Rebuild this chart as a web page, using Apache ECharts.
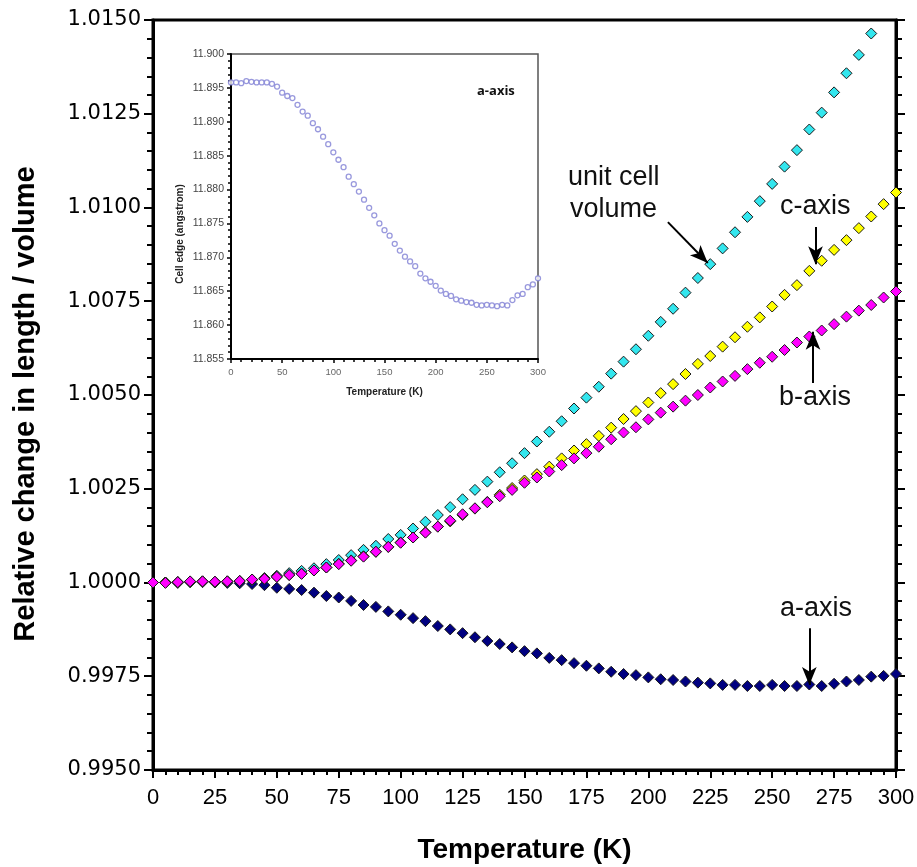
<!DOCTYPE html>
<html>
<head>
<meta charset="utf-8">
<script src="https://cdn.jsdelivr.net/npm/echarts@6.0.0/dist/echarts.min.js"></script>
<style>html,body{margin:0;padding:0;background:#fff}#c{width:917px;height:867px}</style>
</head>
<body>
<div id="c"></div>
<script>
// Temperatures (K)
const temps = [0,5,10,15,20,25,30,35,40,45,50,55,60,65,70,75,80,85,90,95,100,105,110,115,120,125,130,135,140,145,150,155,160,165,170,175,180,185,190,195,200,205,210,215,220,225,230,235,240,245,250,255,260,265,270,275,280,285,290,295,300];

// Main chart: relative change
const aAxisRel = [1.0000,1.0000,0.99999,1.00001,1.00001,1.0000,0.99999,0.99998,0.99996,0.99993,0.99986,0.99983,0.99980,0.99973,0.99964,0.99960,0.99951,0.99940,0.99935,0.99923,0.99914,0.99905,0.99897,0.99884,0.99875,0.99865,0.99854,0.99844,0.99836,0.99827,0.99817,0.99811,0.99799,0.99793,0.99785,0.99778,0.99771,0.99762,0.99756,0.99753,0.99747,0.99742,0.99740,0.99736,0.99733,0.99731,0.99727,0.99727,0.99724,0.99724,0.99727,0.99724,0.99724,0.99728,0.99724,0.99730,0.99736,0.99740,0.99749,0.99751,0.99756];

const bAxisRel = [1.0000,0.99999,1.00001,1.00003,1.00003,1.00002,1.00003,1.00004,1.00008,1.00010,1.00015,1.00020,1.00023,1.00032,1.00040,1.00049,1.00058,1.00069,1.00082,1.00095,1.00106,1.00120,1.00133,1.00149,1.00165,1.00182,1.00198,1.00214,1.00230,1.00247,1.00266,1.00280,1.00296,1.00313,1.00331,1.00345,1.00362,1.00382,1.00400,1.00414,1.00435,1.00453,1.00469,1.00485,1.00500,1.00520,1.00536,1.00551,1.00569,1.00586,1.00602,1.00620,1.00640,1.00656,1.00672,1.00689,1.00709,1.00725,1.00740,1.00760,1.00776];

const cAxisRel = [1.0000,1.0000,1.00001,1.00002,1.00003,1.00002,1.00003,1.00004,1.00007,1.00010,1.00015,1.00020,1.00024,1.00032,1.00040,1.00050,1.00059,1.00070,1.00082,1.00095,1.00107,1.00120,1.00134,1.00149,1.00163,1.00180,1.00197,1.00215,1.00234,1.00252,1.00272,1.00289,1.00309,1.00331,1.00352,1.00369,1.00391,1.00413,1.00436,1.00457,1.00480,1.00505,1.00529,1.00556,1.00583,1.00604,1.00629,1.00654,1.00682,1.00707,1.00736,1.00767,1.00793,1.00831,1.00858,1.00887,1.00913,1.00945,1.00976,1.01009,1.01040];

// unit cell volume (0..290 K)
const volumeRel = [1.0000,1.0000,1.00001,1.00002,1.00003,1.00002,1.00003,1.00004,1.00008,1.00012,1.00018,1.00025,1.00031,1.00038,1.00049,1.00060,1.00073,1.00087,1.00098,1.00116,1.00127,1.00144,1.00162,1.00180,1.00201,1.00222,1.00247,1.00269,1.00294,1.00318,1.00345,1.00376,1.00402,1.00430,1.00464,1.00493,1.00522,1.00557,1.00589,1.00622,1.00658,1.00695,1.00730,1.00773,1.00812,1.00849,1.00891,1.00934,1.00975,1.01017,1.01063,1.01109,1.01153,1.01208,1.01253,1.01307,1.01358,1.01407,1.01464];

// Inset: a-axis cell edge (angstrom)
const insetCellEdge = [11.8958,11.8958,11.8957,11.8960,11.8959,11.8958,11.8958,11.8958,11.8956,11.8952,11.8943,11.8938,11.8935,11.8925,11.8915,11.8909,11.8898,11.8889,11.8878,11.8867,11.8855,11.8844,11.8833,11.8819,11.8808,11.8797,11.8785,11.8773,11.8762,11.8750,11.8740,11.8732,11.8720,11.8710,11.8701,11.8694,11.8687,11.8676,11.8669,11.8664,11.8658,11.8651,11.8646,11.8643,11.8638,11.8636,11.8634,11.8633,11.8630,11.8629,11.8630,11.8629,11.8628,11.8630,11.8629,11.8637,11.8644,11.8646,11.8656,11.8660,11.8669];

// Annotation arrows [x0, y0, x1, y1] in data units (tip at x1,y1)
const arrowVolume = [207.9, 1.00961, 224.0, 1.00852];
const arrowC = [267.5, 1.00948, 267.5, 1.00849];
const arrowB = [266.5, 1.00532, 266.5, 1.00669];
const arrowA = [265.0, 0.99878, 265.0, 0.99727];

const zip = (xs, ys) => ys.map((v, i) => [xs[i], v]);

function arrowLine(a) {
  return {
    silent: true, animation: false,
    symbol: ['none', 'arrow'], symbolSize: [11, 18],
    lineStyle: {color: '#000', width: 2, type: 'solid'},
    label: {show: false},
    emphasis: {disabled: true},
    data: [[{coord: [a[0], a[1]]}, {coord: [a[2], a[3]]}]]
  };
}

const chart = echarts.init(document.getElementById('c'), null, {renderer: 'canvas'});

const mainFont = "'Liberation Sans', Arial, sans-serif";

const diamond = (color) => ({
  type: 'scatter', xAxisIndex: 0, yAxisIndex: 0,
  symbol: 'diamond', symbolSize: 11,
  itemStyle: {color: color, borderColor: '#1a1a1a', borderWidth: 1, opacity: 1},
  emphasis: {disabled: true},
  animation: false
});

const txt = (x, y, text, font, extra) => Object.assign({
  type: 'text', x: x, y: y, z: 100,
  style: {text: text, font: font, fill: '#111', align: 'left', verticalAlign: 'middle', textAlign: 'left', textVerticalAlign: 'middle'}
}, extra || {});

const option = {
  backgroundColor: '#fff',
  animation: false,
  grid: [
    {left: 153, top: 20, width: 743, height: 750, show: true, borderColor: '#000', borderWidth: 3, backgroundColor: 'transparent', containLabel: false, outerBoundsMode: 'none'},
    {left: 231, top: 54, width: 307, height: 305, show: true, borderColor: '#555', borderWidth: 1.5, backgroundColor: '#fff', containLabel: false, outerBoundsMode: 'none'}
  ],
  xAxis: [
    {
      gridIndex: 0, type: 'value', min: 0, max: 300, interval: 25,
      name: 'Temperature (K)', nameLocation: 'middle', nameGap: 66,
      nameTextStyle: {fontFamily: mainFont, fontWeight: 'bold', fontSize: 28, color: '#000'},
      axisLine: {show: true, onZero: false, lineStyle: {color: '#000', width: 3}},
      axisTick: {show: true, inside: false, length: 8, lineStyle: {color: '#000', width: 2}},
      minorTick: {show: true, splitNumber: 5, length: 5, lineStyle: {color: '#000', width: 2}},
      axisLabel: {fontFamily: mainFont, fontSize: 22, color: '#000', margin: 17},
      splitLine: {show: false}, minorSplitLine: {show: false}
    },
    {
      gridIndex: 1, type: 'value', min: 0, max: 300, interval: 50,
      name: 'Temperature (K)', nameLocation: 'middle', nameGap: 28,
      nameTextStyle: {fontFamily: mainFont, fontWeight: 'bold', fontSize: 10, color: '#222'},
      axisLine: {show: true, onZero: false, lineStyle: {color: '#000', width: 2}},
      axisTick: {show: true, inside: false, length: 4, lineStyle: {color: '#000', width: 1.5}},
      minorTick: {show: true, splitNumber: 5, length: 3, lineStyle: {color: '#000', width: 1.5}},
      axisLabel: {fontFamily: mainFont, fontSize: 9.5, color: '#666', margin: 8},
      splitLine: {show: false}, minorSplitLine: {show: false}
    }
  ],
  yAxis: [
    {
      gridIndex: 0, type: 'value', min: 0.995, max: 1.015, interval: 0.0025, position: 'left',
      axisLine: {show: true, onZero: false, lineStyle: {color: '#000', width: 3}},
      axisTick: {show: true, inside: false, length: 9, lineStyle: {color: '#000', width: 2}},
      minorTick: {show: true, splitNumber: 5, length: 6, lineStyle: {color: '#000', width: 2}},
      axisLabel: {fontFamily: "'DejaVu Sans', sans-serif", fontSize: 21, color: '#000', margin: 12,
        formatter: v => v.toFixed(4)},
      splitLine: {show: false}, minorSplitLine: {show: false}
    },
    {
      gridIndex: 0, type: 'value', min: 0.995, max: 1.015, interval: 0.0025, position: 'right',
      axisLine: {show: true, onZero: false, lineStyle: {color: '#000', width: 3}},
      axisTick: {show: true, inside: false, length: 9, lineStyle: {color: '#000', width: 2}},
      minorTick: {show: true, splitNumber: 5, length: 6, lineStyle: {color: '#000', width: 2}},
      axisLabel: {show: false},
      splitLine: {show: false}, minorSplitLine: {show: false}
    },
    {
      gridIndex: 1, type: 'value', min: 11.855, max: 11.9, interval: 0.005,
      axisLine: {show: true, onZero: false, lineStyle: {color: '#000', width: 2}},
      axisTick: {show: true, inside: false, length: 4, lineStyle: {color: '#000', width: 1.5}},
      minorTick: {show: true, splitNumber: 5, length: 3, lineStyle: {color: '#000', width: 1.5}},
      axisLabel: {fontFamily: mainFont, fontSize: 10.5, color: '#444', margin: 7,
        formatter: v => v.toFixed(3)},
      splitLine: {show: false}, minorSplitLine: {show: false}
    }
  ],
  series: [
    Object.assign(diamond('#000080'), {name: 'a-axis', data: zip(temps, aAxisRel), markLine: arrowLine(arrowA)}),
    Object.assign(diamond('#33e6ee'), {name: 'unit cell volume', data: zip(temps, volumeRel), markLine: arrowLine(arrowVolume)}),
    Object.assign(diamond('#ffff00'), {name: 'c-axis', data: zip(temps, cAxisRel), markLine: arrowLine(arrowC)}),
    Object.assign(diamond('#ff00ff'), {name: 'b-axis', data: zip(temps, bAxisRel), markLine: arrowLine(arrowB)}),
    {
      name: 'inset a-axis', type: 'scatter', xAxisIndex: 1, yAxisIndex: 2,
      symbol: 'circle', symbolSize: 5,
      itemStyle: {color: '#fff', borderColor: '#7f7fd4', borderWidth: 1.3},
      emphasis: {disabled: true},
      data: zip(temps, insetCellEdge)
    }
  ],
  graphic: [
    txt(26, 404, 'Relative change in length / volume', "bold 29px 'Liberation Sans', Arial, sans-serif",
      {rotation: Math.PI / 2, style: {text: 'Relative change in length / volume', font: "bold 29px 'Liberation Sans', Arial, sans-serif", fill: '#000', align: 'center', verticalAlign: 'middle', textAlign: 'center', textVerticalAlign: 'middle'}}),
    txt(568, 178, 'unit cell', "27px 'Liberation Sans', Arial, sans-serif"),
    txt(570, 210, 'volume', "27px 'Liberation Sans', Arial, sans-serif"),
    txt(780, 207, 'c-axis', "27px 'Liberation Sans', Arial, sans-serif"),
    txt(779, 398, 'b-axis', "27px 'Liberation Sans', Arial, sans-serif"),
    txt(780, 609, 'a-axis', "27px 'Liberation Sans', Arial, sans-serif"),
    txt(477, 91, 'a-axis', "bold 13px 'Open Sans', 'Liberation Sans', sans-serif"),
    txt(180, 234, 'Cell edge (angstrom)', "bold 10px 'Liberation Sans', Arial, sans-serif",
      {rotation: Math.PI / 2, style: {text: 'Cell edge (angstrom)', font: "bold 10px 'Liberation Sans', Arial, sans-serif", fill: '#222', align: 'center', verticalAlign: 'middle', textAlign: 'center', textVerticalAlign: 'middle'}})
  ]
};

chart.setOption(option);
</script>
</body>
</html>
